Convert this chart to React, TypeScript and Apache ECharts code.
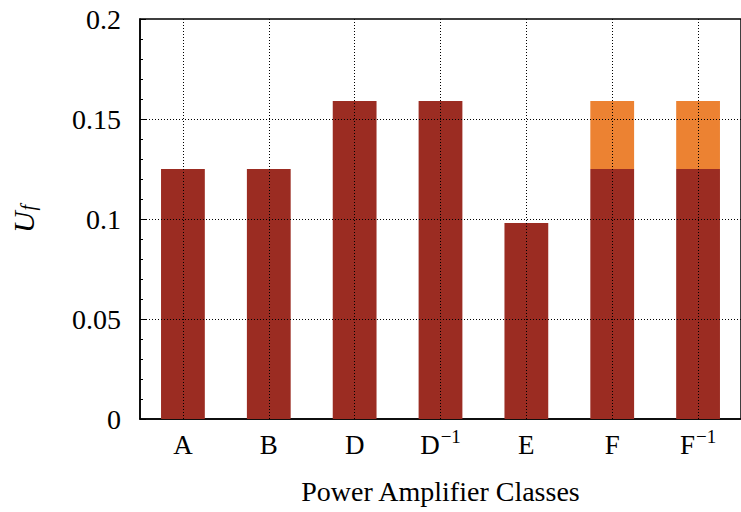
import React, { useEffect, useRef } from "react";
import * as echarts from "echarts";

const categories = ["A", "B", "D", "D{sup|−1}", "E", "F", "F{sup|−1}"];
const baseValues = [0.125, 0.125, 0.159, 0.159, 0.098, 0.125, 0.125];
const extraValues: (number | string)[] = ["-", "-", "-", "-", "-", 0.034, 0.034];
const yMin = 0;
const yMax = 0.2;
const yInterval = 0.05;
const yGridValues = [0.05, 0.1, 0.15];

const FONT = "Liberation Serif, Times New Roman, serif";
const DOT: number[] = [1, 2];

export default function App() {
  const ref = useRef<HTMLDivElement>(null);
  useEffect(() => {
    document.body.style.margin = "0";
    if (!ref.current) return;
    const chart = echarts.init(ref.current, null, { renderer: "svg" });
    const gridLineStyle = { color: "#000", type: DOT, width: 1 };
    chart.setOption({
      animation: false,
      backgroundColor: "#ffffff",
      textStyle: { fontFamily: FONT },
      grid: {
        left: 138,
        top: 19,
        width: 609,
        bottom: 93,
        show: true,
        borderColor: "#000",
        borderWidth: 1.5,
        backgroundColor: "transparent",
      },
      xAxis: {
        type: "category",
        data: categories,
        boundaryGap: true,
        name: "Power Amplifier Classes",
        nameLocation: "middle",
        nameGap: 58,
        nameTextStyle: { fontFamily: FONT, fontSize: 28, color: "#000" },
        axisLine: { show: true, lineStyle: { color: "#000", width: 1.5 } },
        axisTick: {
          show: true,
          inside: true,
          alignWithLabel: true,
          interval: 0,
          length: 6,
          lineStyle: { color: "#000", width: 1 },
        },
        axisLabel: {
          interval: 0,
          margin: 8,
          color: "#000",
          fontFamily: FONT,
          fontSize: 27,
          lineHeight: 36,
          rich: {
            sup: {
              fontFamily: FONT,
              fontSize: 19,
              lineHeight: 20,
              color: "#000",
              verticalAlign: "top",
              padding: [0, 0, 0, 1],
            },
          },
        },
        splitLine: { show: false },
      },
      yAxis: {
        type: "value",
        min: yMin,
        max: yMax,
        interval: yInterval,
        name: "{u|U}{f|f}",
        nameLocation: "middle",
        nameRotate: 90,
        nameGap: 102,
        nameTextStyle: {
          rich: {
            u: { fontFamily: FONT, fontSize: 30, fontStyle: "italic", color: "#000" },
            f: {
              fontFamily: FONT,
              fontSize: 20,
              fontStyle: "italic",
              color: "#000",
              verticalAlign: "bottom",
              padding: [10, 0, 0, 1],
            },
          },
        },
        axisLine: { show: true, lineStyle: { color: "#000", width: 1.5 } },
        axisTick: { show: true, inside: true, length: 6, lineStyle: { color: "#000" } },
        minorTick: {
          show: true,
          splitNumber: 5,
          length: 3,
          lineStyle: { color: "#000" },
        },
        axisLabel: {
          margin: 19,
          color: "#000",
          fontFamily: FONT,
          fontSize: 28,
          formatter: (v: number) => String(parseFloat(v.toFixed(2))),
        },
        splitLine: { show: false },
      },
      series: [
        {
          type: "bar",
          stack: "total",
          data: baseValues,
          barWidth: "51%",
          itemStyle: { color: "#9b2c22" },
          z: 1,
        },
        {
          type: "bar",
          stack: "total",
          data: extraValues,
          barWidth: "51%",
          itemStyle: { color: "#ec8232" },
          z: 1,
        },
        {
          type: "line",
          data: [],
          z: 10,
          silent: true,
          markLine: {
            silent: true,
            symbol: ["none", "none"],
            label: { show: false },
            lineStyle: gridLineStyle,
            emphasis: { disabled: true },
            data: [
              ...categories.map((_, i) => ({ xAxis: i })),
              ...yGridValues.map((v) => ({ yAxis: v })),
            ],
          },
        },
      ],
    });
    return () => chart.dispose();
  }, []);
  return <div ref={ref} style={{ width: 741, height: 512 }} />;
}
